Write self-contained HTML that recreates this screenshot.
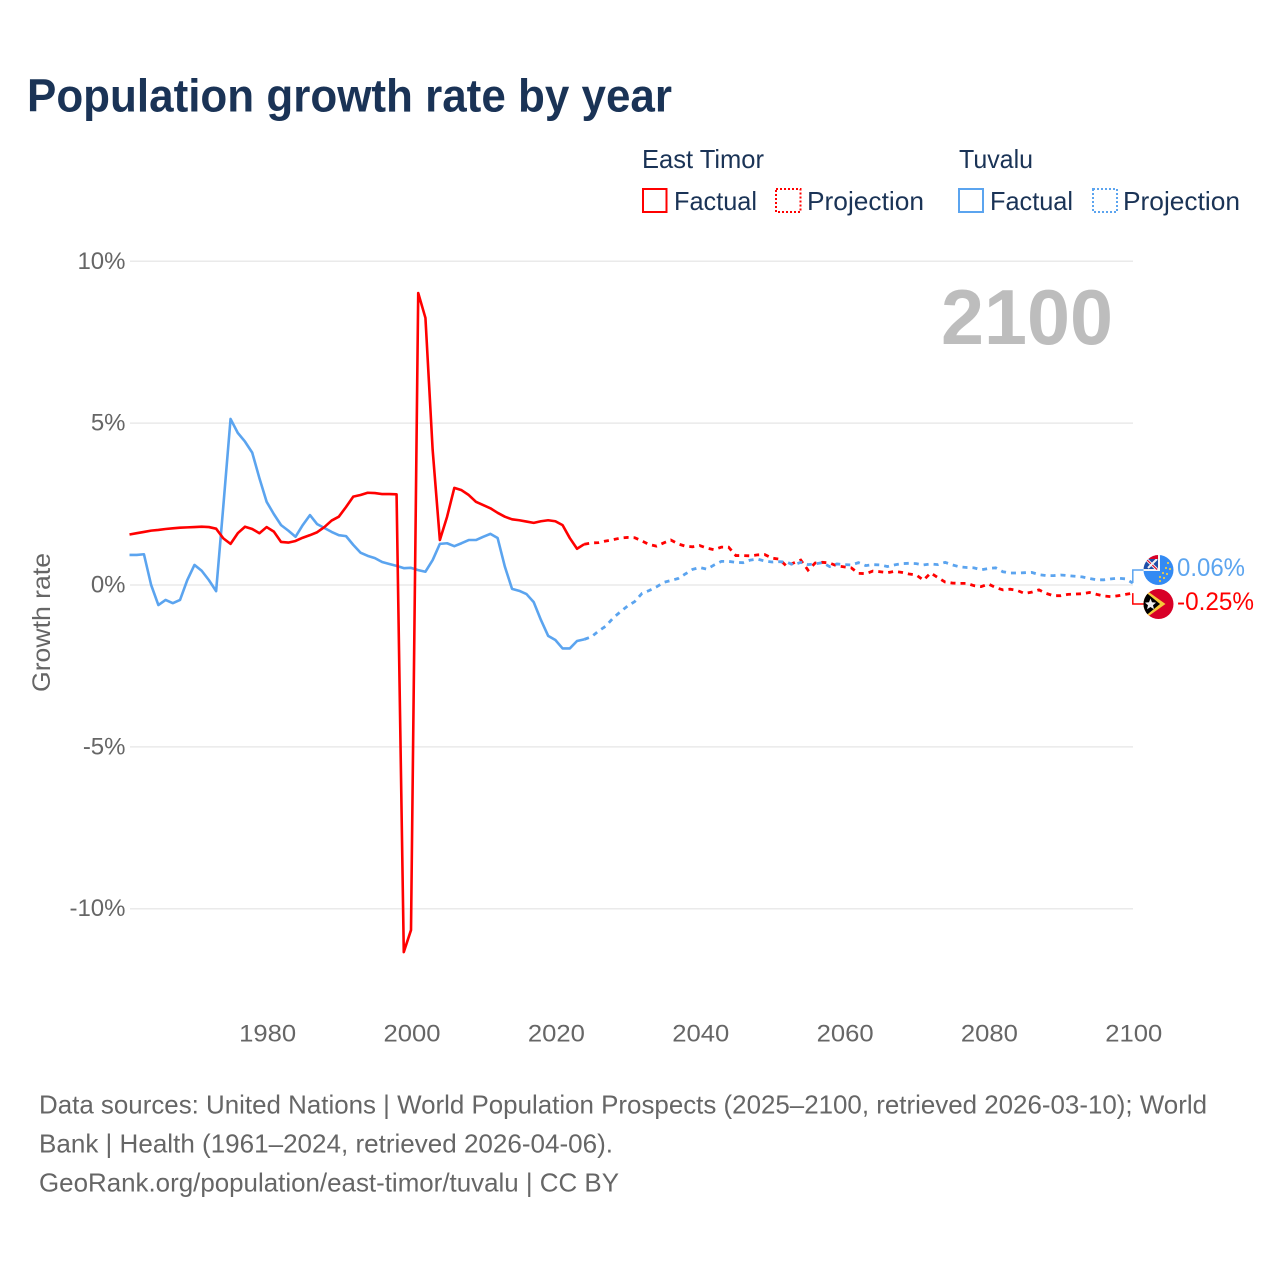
<!DOCTYPE html>
<html lang="en">
<head>
<meta charset="utf-8">
<title>Population growth rate by year</title>
<style>
html,body{margin:0;padding:0;background:#fff;}
svg{display:block;font-family:"Liberation Sans",sans-serif;}
</style>
</head>
<body>
<svg id="chart" width="1280" height="1280" viewBox="0 0 1280 1280" xmlns="http://www.w3.org/2000/svg">
  <rect width="1280" height="1280" fill="#fff"/>
  <text x="27" y="111.500" font-size="46" font-weight="700" fill="#1a3356" textLength="645" lengthAdjust="spacingAndGlyphs">Population growth rate by year</text>

  <g fill="#1a3356" font-size="26">
    <text x="642" y="168" textLength="122" lengthAdjust="spacingAndGlyphs">East Timor</text>
    <text x="959" y="168" textLength="74" lengthAdjust="spacingAndGlyphs">Tuvalu</text>
    <g>
      <rect x="643" y="189" width="23.5" height="23" fill="none" stroke="#ff0000" stroke-width="2"/>
      <text x="674" y="210" textLength="83" lengthAdjust="spacingAndGlyphs">Factual</text>
    </g>
    <g>
      <rect x="776" y="189" width="24.5" height="23" fill="none" stroke="#ff0000" stroke-width="2" stroke-dasharray="2 2"/>
      <text x="807" y="210" textLength="117" lengthAdjust="spacingAndGlyphs">Projection</text>
    </g>
    <g>
      <rect x="959" y="189" width="24" height="23" fill="none" stroke="#5ba4ef" stroke-width="2"/>
      <text x="990" y="210" textLength="83" lengthAdjust="spacingAndGlyphs">Factual</text>
    </g>
    <g>
      <rect x="1093" y="189" width="24" height="23" fill="none" stroke="#5ba4ef" stroke-width="2" stroke-dasharray="2 2"/>
      <text x="1123" y="210" textLength="117" lengthAdjust="spacingAndGlyphs">Projection</text>
    </g>
  </g>

  <g id="grid"></g>
  <g id="yticks"></g>
  <g id="xticks"></g>

  <text x="941" y="344" font-size="78" font-weight="700" fill="#bdbdbd" textLength="172" lengthAdjust="spacingAndGlyphs">2100</text>
  <text transform="translate(50,692) rotate(-90)" font-size="25" fill="#666" textLength="139" lengthAdjust="spacingAndGlyphs">Growth rate</text>

  <g id="series"></g>
  <g id="endlabels"></g>

  <defs>
    <clipPath id="clip-tuvalu"><circle cx="1158.500" cy="570" r="15"/></clipPath>
    <clipPath id="clip-tuvalu-union"><rect x="1143" y="555" width="15" height="15"/></clipPath>
    <clipPath id="clip-timor"><circle cx="1158.500" cy="604" r="15"/></clipPath>
  </defs>
  <g clip-path="url(#clip-tuvalu)">
    <rect x="1143" y="555" width="31" height="31" fill="#338af3"/>
    <rect x="1143" y="555" width="17" height="16" fill="#f7f7f7"/>
    <g clip-path="url(#clip-tuvalu-union)">
      <rect x="1143" y="555" width="15" height="15" fill="#f0f0f0"/>
      <rect x="1143" y="559" width="15" height="10" fill="#1f4ea8"/>
      <path d="M1146 559 L1157 569.500" stroke="#f4f4f4" stroke-width="3"/>
      <path d="M1146 559 L1157 569.500" stroke="#d80027" stroke-width="1.200"/>
      <path d="M1157 559 L1148 568" stroke="#f4f4f4" stroke-width="2"/>
      <rect x="1143" y="555" width="15" height="4" fill="#d80027"/>
    </g>
    <g fill="#e8c84a">
      <circle cx="1168" cy="563" r="1.100"/><circle cx="1170" cy="569" r="1.100"/><circle cx="1166" cy="568" r="1.100"/>
      <circle cx="1167" cy="574" r="1.100"/><circle cx="1163" cy="573" r="1.100"/><circle cx="1164" cy="578" r="1.100"/>
      <circle cx="1160" cy="577" r="1.100"/><circle cx="1160" cy="581" r="1.100"/>
    </g>
  </g>
  <g clip-path="url(#clip-timor)">
    <rect x="1143" y="589" width="31" height="30" fill="#d80027"/>
    <path d="M1143 588 L1165.500 604 L1143 620 Z" fill="#f5c93a"/>
    <path d="M1143 590 L1160 604 L1143 618 Z" fill="#000"/>
    <path d="M1150.500 598.500 L1152 602.300 L1156 602.600 L1153 605.200 L1154 609.200 L1150.500 607 L1147 609.200 L1148 605.200 L1145 602.600 L1149 602.300 Z" fill="#efefef"/>
  </g>

  <g font-size="26" fill="#666">
    <text x="39" y="1113.500" textLength="1168" lengthAdjust="spacingAndGlyphs">Data sources: United Nations | World Population Prospects (2025–2100, retrieved 2026-03-10); World</text>
    <text x="39" y="1152.500" textLength="574" lengthAdjust="spacingAndGlyphs">Bank | Health (1961–2024, retrieved 2026-04-06).</text>
    <text x="39" y="1191.500" textLength="580" lengthAdjust="spacingAndGlyphs">GeoRank.org/population/east-timor/tuvalu | CC BY</text>
  </g>
</svg>

<script>
const firstYear = 1961;
const lastYear = 2100;
const yTickValues = [10, 5, 0, -5, -10];
const xTickYears = [1980, 2000, 2020, 2040, 2060, 2080, 2100];

const eastTimorFactual = [
  1.56,1.60,1.64,1.68,1.70,1.73,1.75,1.77,1.78,1.79,
  1.80,1.79,1.74,1.44,1.27,1.60,1.80,1.73,1.60,1.79,
  1.65,1.33,1.31,1.36,1.46,1.54,1.63,1.79,1.99,2.11,
  2.41,2.73,2.78,2.85,2.84,2.81,2.81,2.80,-11.34,-10.66,
  9.02,8.25,4.17,1.39,2.11,3.00,2.93,2.78,2.57,2.47,
  2.37,2.23,2.11,2.03,2.00,1.96,1.92,1.97,2.00,1.97,
  1.85,1.45,1.12,1.26
];
const eastTimorProjection = [
  1.30,1.31,1.36,1.40,1.45,1.47,
  1.46,1.36,1.25,1.20,1.30,1.39,1.27,1.20,1.18,1.22,
  1.14,1.09,1.17,1.17,0.91,0.91,0.90,0.93,0.94,0.83,
  0.80,0.59,0.68,0.77,0.46,0.68,0.70,0.68,0.59,0.56,
  0.53,0.36,0.35,0.43,0.41,0.38,0.42,0.39,0.34,0.31,
  0.15,0.37,0.23,0.09,0.06,0.05,0.05,-0.02,-0.05,0.03,
  -0.08,-0.15,-0.13,-0.17,-0.26,-0.22,-0.15,-0.26,-0.33,-0.33,
  -0.29,-0.28,-0.27,-0.23,-0.29,-0.34,-0.36,-0.33,-0.29,-0.25
];
const tuvaluFactual = [
  0.93,0.93,0.95,0.00,-0.62,-0.46,-0.56,-0.46,0.15,0.62,
  0.44,0.15,-0.19,2.44,5.13,4.70,4.43,4.09,3.30,2.57,
  2.19,1.85,1.68,1.49,1.85,2.16,1.88,1.76,1.64,1.54,
  1.51,1.24,1.00,0.90,0.83,0.71,0.65,0.59,0.52,0.53,
  0.46,0.41,0.77,1.27,1.29,1.20,1.29,1.39,1.39,1.49,
  1.58,1.45,0.57,-0.12,-0.18,-0.28,-0.53,-1.08,-1.57,-1.70,
  -1.96,-1.96,-1.73,-1.68
];
const tuvaluProjection = [
  -1.60,-1.42,-1.27,-1.02,-0.83,-0.65,
  -0.51,-0.26,-0.17,-0.06,0.08,0.14,0.20,0.34,0.48,0.54,
  0.49,0.62,0.73,0.73,0.70,0.69,0.77,0.80,0.74,0.71,
  0.72,0.71,0.62,0.70,0.63,0.65,0.69,0.57,0.65,0.63,
  0.62,0.69,0.60,0.63,0.62,0.57,0.62,0.66,0.67,0.66,
  0.62,0.65,0.63,0.70,0.62,0.56,0.54,0.53,0.47,0.51,
  0.53,0.41,0.37,0.37,0.38,0.39,0.32,0.29,0.29,0.31,
  0.29,0.27,0.25,0.20,0.16,0.16,0.19,0.21,0.19,0.06
];

const NS = 'http://www.w3.org/2000/svg';
const plotLeft = 129.5, plotRight = 1132.8, zeroY = 585, pxPerPercent = 32.37;
function xScale(year) { return plotLeft + (year - firstYear) * (plotRight - plotLeft) / (lastYear - firstYear); }
function yScale(value) { return zeroY - value * pxPerPercent; }
function make(tag, attrs, parent) {
  const el = document.createElementNS(NS, tag);
  for (const k in attrs) el.setAttribute(k, attrs[k]);
  parent.appendChild(el);
  return el;
}
function pathFrom(startYear, values) {
  return values.map((v, i) => (i ? 'L' : 'M') + xScale(startYear + i).toFixed(2) + ' ' + yScale(v).toFixed(2)).join(' ');
}

const gridGroup = document.getElementById('grid');
const yTickGroup = document.getElementById('yticks');
const xTickGroup = document.getElementById('xticks');
const seriesGroup = document.getElementById('series');
const endGroup = document.getElementById('endlabels');

yTickValues.forEach(v => {
  const line = make('line', {x1: 130, x2: 1133, y1: yScale(v), y2: yScale(v), stroke: '#eaeaea', 'stroke-width': 1.5}, gridGroup);
  
  
  const label = make('text', {x: 125.5, y: yScale(v) + 7.5, 'text-anchor': 'end', 'font-size': 24, fill: '#666'}, yTickGroup);
  label.textContent = v + '%';
  
  
});
xTickYears.forEach(year => {
  const label = make('text', {x: xScale(year) + 1, y: 1041.5, 'text-anchor': 'middle', 'font-size': 24, fill: '#666', textLength: 57, lengthAdjust: 'spacingAndGlyphs'}, xTickGroup);
  label.textContent = String(year);
  
  
});

const seriesColorRed = '#ff0000';
const seriesColorBlue = '#5ba4ef';
const factualLastYear = firstYear + eastTimorFactual.length - 1;

const tuvaluSolid = make('path', {d: pathFrom(firstYear, tuvaluFactual), fill: 'none', stroke: seriesColorBlue, 'stroke-width': 2.6, 'stroke-linejoin': 'round'}, seriesGroup);


const timorSolid = make('path', {d: pathFrom(firstYear, eastTimorFactual), fill: 'none', stroke: seriesColorRed, 'stroke-width': 2.6, 'stroke-linejoin': 'round'}, seriesGroup);


const timorDash = make('path', {d: pathFrom(factualLastYear, [eastTimorFactual[eastTimorFactual.length - 1]].concat(eastTimorProjection)), fill: 'none', stroke: seriesColorRed, 'stroke-width': 2.8, 'stroke-dasharray': '5 5'}, seriesGroup);


const tuvaluDash = make('path', {d: pathFrom(factualLastYear, [tuvaluFactual[tuvaluFactual.length - 1]].concat(tuvaluProjection)), fill: 'none', stroke: seriesColorBlue, 'stroke-width': 2.8, 'stroke-dasharray': '5 5'}, seriesGroup);



const tuvaluLast = tuvaluProjection[tuvaluProjection.length - 1];
const timorLast = eastTimorProjection[eastTimorProjection.length - 1];
const endX = xScale(lastYear);

const tuvaluConnector = make('path', {d: 'M' + endX + ' ' + yScale(tuvaluLast).toFixed(2) + ' V570 H1144', fill: 'none', stroke: seriesColorBlue, 'stroke-width': 1.5}, endGroup);


const timorConnector = make('path', {d: 'M' + endX + ' ' + yScale(timorLast).toFixed(2) + ' V604 H1144', fill: 'none', stroke: seriesColorRed, 'stroke-width': 1.5}, endGroup);



const tuvaluEnd = make('text', {x: 1177, y: 576, 'font-size': 25, fill: seriesColorBlue, textLength: 68, lengthAdjust: 'spacingAndGlyphs'}, endGroup);
tuvaluEnd.textContent = tuvaluLast.toFixed(2) + '%';


const timorEnd = make('text', {x: 1177, y: 610, 'font-size': 25, fill: seriesColorRed, textLength: 77, lengthAdjust: 'spacingAndGlyphs'}, endGroup);
timorEnd.textContent = timorLast.toFixed(2) + '%';


</script>
</body>
</html>
